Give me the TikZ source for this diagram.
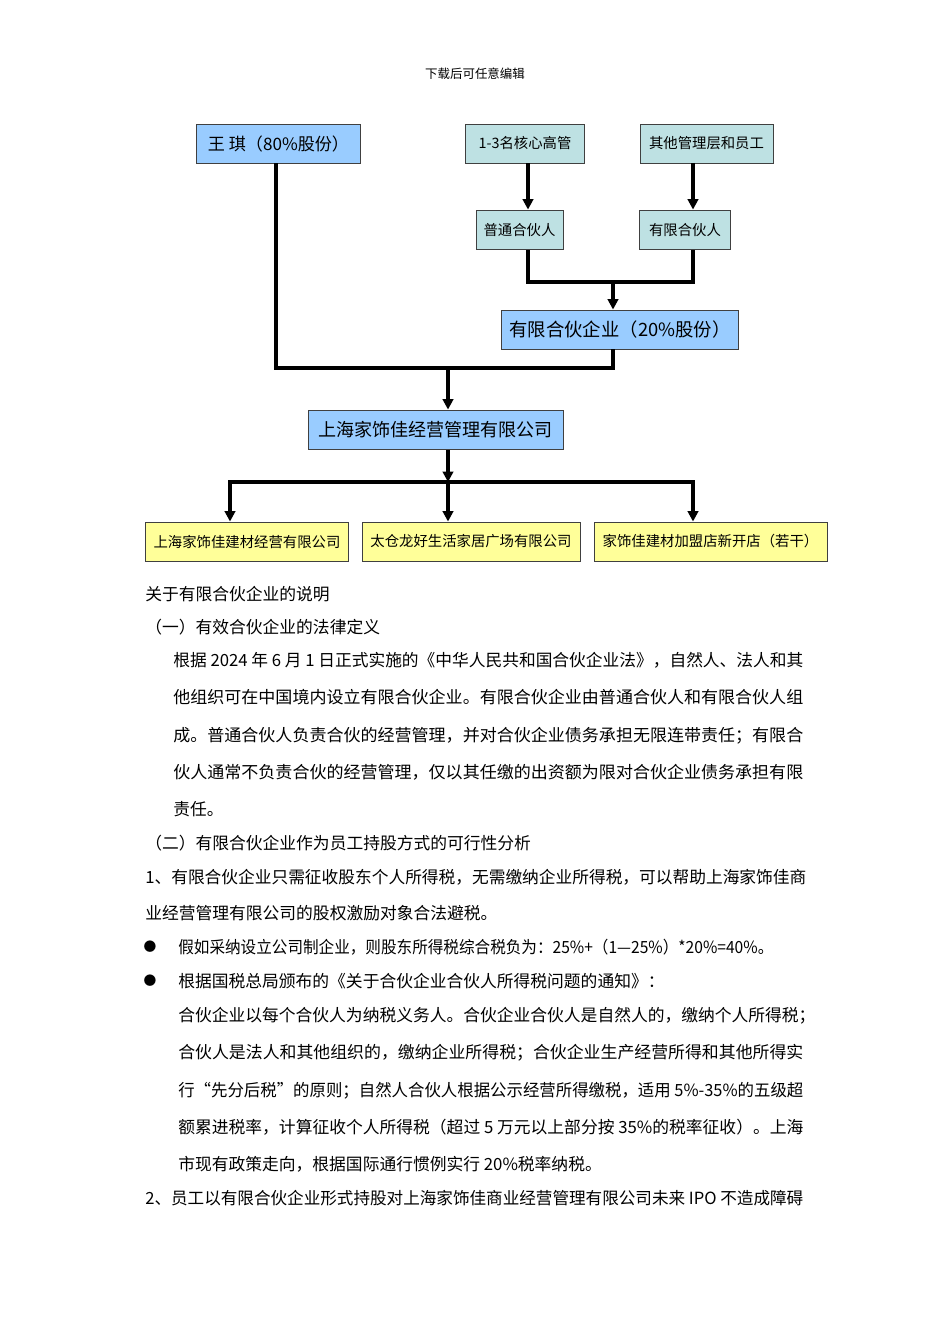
\documentclass[tikz,border=0pt]{standalone}
\usepackage{fontspec}
\setmainfont{Noto Sans CJK SC}
\usepackage{graphicx}
\usepackage{tikz}
\usetikzlibrary{arrows.meta}
\usetikzlibrary{positioning}

\definecolor{boxblue}{HTML}{99CCFF}
\definecolor{boxteal}{HTML}{BEE1E3}
\definecolor{boxyellow}{HTML}{FFFF99}
\newcommand{\jline}[2]{\resizebox{#1}{\height}{#2}}
\newcommand{\fs}[1]{\fontsize{#1}{1.2\dimexpr#1\relax}\selectfont}

\begin{document}
\begin{tikzpicture}[x=0.6262pt, y=-0.6262pt,
    box/.style={draw=black!75, line width=0.6pt, inner sep=0pt, minimum height=24.4pt},
    bluebox/.style={box, fill=boxblue},
    tealbox/.style={box, fill=boxteal, font=\fs{9pt}},
    yellowbox/.style={box, fill=boxyellow, font=\fs{9pt}},
    ln/.style={line width=1.9pt},
    arr/.style={line width=1.9pt, -{Triangle[length=6.5pt, width=6.5pt]}},
    txt/.style={anchor=base west, inner sep=0pt, font=\fs{10.5pt}},
    dot/.style={anchor=center, inner sep=0pt, font=\fs{8pt}}]
\useasboundingbox (0, 0) rectangle (950, 1344);
\node[inner sep=0pt, font=\fs{7.8pt}] (head) at (475, 74) {下载后可任意编辑};

\node[bluebox, minimum width=102.1pt, font=\fs{10.7pt}] (wq) at (278.5, 143.5) {王 琪（80\%股份）};
\node[tealbox, minimum width=75.1pt] (core) at (525, 143.5) {1-3名核心高管};
\node[tealbox, minimum width=83.3pt] (staff) at (706.5, 143.5) {其他管理层和员工};
\node[tealbox, minimum width=54.5pt, minimum height=25pt] (gp) at (519.5, 230) {普通合伙人};
\node[tealbox, minimum width=56.4pt, minimum height=25pt] (lpp) at (685, 230) {有限合伙人};
\node[bluebox, minimum width=149pt, font=\fs{11.5pt}] (lp) at (620, 329.5) {有限合伙企业（20\%股份）};
\node[bluebox, minimum width=159.7pt, minimum height=25pt, font=\fs{11.3pt}] (sh) at (435.5, 430) {上海家饰佳经营管理有限公司};
\node[yellowbox, minimum width=127.7pt] (b1) at (247, 541.5) {上海家饰佳建材经营有限公司};
\node[yellowbox, minimum width=136.5pt] (b2) at (471, 541.5) {太仓龙好生活家居广场有限公司};
\node[yellowbox, minimum width=145.9pt] (b3) at (710.5, 541.5) {家饰佳建材加盟店新开店（若干）};

\coordinate (cA) at (276, 0);
\coordinate (cC) at (528, 0);
\coordinate (cD) at (613, 0);
\coordinate (cE) at (693, 0);
\coordinate (jA) at (448, 368);
\coordinate (jB) at (613, 282);
\coordinate (jC) at (448, 482);
\coordinate (jL) at (230, 482);
\coordinate (jR) at (693, 482);

\draw[arr] (core.south -| cC) -- (gp.north -| cC);
\draw[arr] (staff.south -| cE) -- (lpp.north -| cE);
\draw[ln] (gp.south -| cC) |- (jB) -| (lpp.south -| cE);
\draw[arr] (jB) -- (lp.north -| jB);
\draw[ln] (wq.south -| cA) |- (jA) -| (lp.south -| cD);
\draw[arr] (jA) -- (sh.north -| jA);
\draw[arr] (sh.south -| jC) -- (jC);
\draw[arr] (jC) -| (b1.north -| jL);
\draw[arr] (jC) -- (b2.north -| jC);
\draw[arr] (jC) -| (b3.north -| jR);

\node[txt] (t1) at (145, 600) {关于有限合伙企业的说明};
\node[txt] (t2) at (145, 633) {（一）有效合伙企业的法律定义};
\node[txt] (t3) at (173, 666) {\jline{394.5pt}{根据 2024 年 6 月 1 日正式实施的《中华人民共和国合伙企业法》，自然人、法人和其}};
\node[txt] (t4) at (173, 703) {\jline{394.5pt}{他组织可在中国境内设立有限合伙企业。有限合伙企业由普通合伙人和有限合伙人组}};
\node[txt] (t5) at (173, 741) {\jline{394.5pt}{成。普通合伙人负责合伙的经营管理，并对合伙企业债务承担无限连带责任；有限合}};
\node[txt] (t6) at (173, 778) {\jline{394.5pt}{伙人通常不负责合伙的经营管理，仅以其任缴的出资额为限对合伙企业债务承担有限}};
\node[txt] (t7) at (173, 815) {责任。};
\node[txt] (t8) at (145, 849) {（二）有限合伙企业作为员工持股方式的可行性分析};
\node[txt] (t9) at (145, 883) {\jline{413.9pt}{1、有限合伙企业只需征收股东个人所得税，无需缴纳企业所得税，可以帮助上海家饰佳商}};
\node[txt] (t10) at (145, 919) {业经营管理有限公司的股权激励对象合法避税。};
\node[dot] (d1) at (150, 947) {●};
\node[txt] (t11) at (178, 953) {\jline{372.6pt}{假如采纳设立公司制企业，则股东所得税综合税负为：25\%+（1—25\%）*20\%=40\%。}};
\node[dot] (d2) at (150, 981) {●};
\node[txt] (t12) at (178, 987) {根据国税总局颁布的《关于合伙企业合伙人所得税问题的通知》：};
\node[txt] (t13) at (178, 1021) {合伙企业以每个合伙人为纳税义务人。合伙企业合伙人是自然人的，缴纳个人所得税；};
\node[txt] (t14) at (178, 1058) {\jline{391.4pt}{合伙人是法人和其他组织的，缴纳企业所得税；合伙企业生产经营所得和其他所得实}};
\node[txt] (t15) at (178, 1096) {\jline{391.4pt}{行“先分后税”的原则；自然人合伙人根据公示经营所得缴税，适用 5\%-35\%的五级超}};
\node[txt] (t16) at (178, 1133) {\jline{391.4pt}{额累进税率，计算征收个人所得税（超过 5 万元以上部分按 35\%的税率征收）。上海}};
\node[txt] (t17) at (178, 1170) {市现有政策走向，根据国际通行惯例实行 20\%税率纳税。};
\node[txt] (t18) at (145, 1204) {\jline{412pt}{2、员工以有限合伙企业形式持股对上海家饰佳商业经营管理有限公司未来 IPO 不造成障碍}};
\end{tikzpicture}
\end{document}
